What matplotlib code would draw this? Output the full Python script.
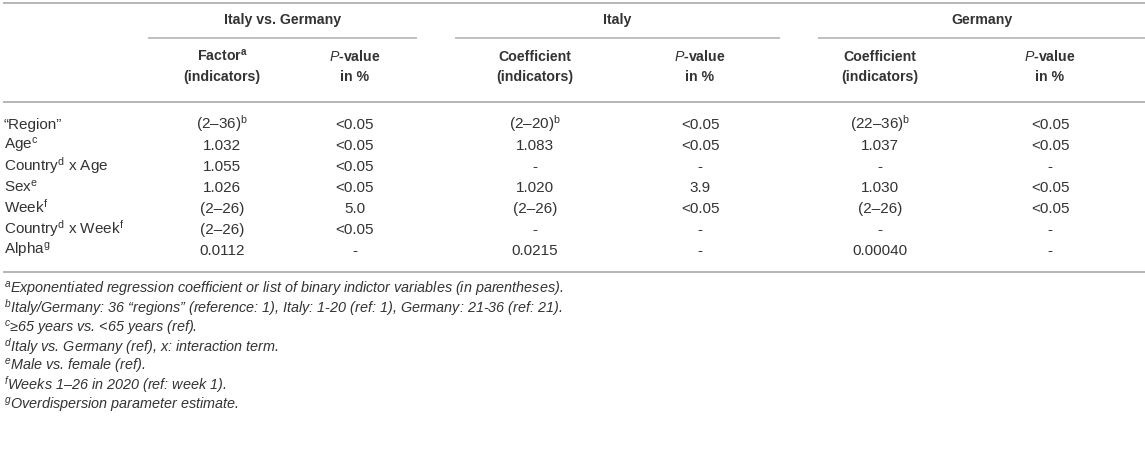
import matplotlib
matplotlib.use("Agg")
import matplotlib.pyplot as plt

plt.rcParams['font.family'] = ['Liberation Sans', 'DejaVu Sans']
plt.rcParams['mathtext.fontset'] = 'custom'
plt.rcParams['mathtext.rm'] = 'Liberation Sans'
plt.rcParams['mathtext.it'] = 'Liberation Sans:italic'
plt.rcParams['mathtext.bf'] = 'Liberation Sans:bold'

# ---- data ----
group_titles = ["Italy vs. Germany", "Italy", "Germany"]
col_line1 = ["Factor$^{\\mathregular{a}}$", "$\\mathbf{\\mathit{P}}$-value",
             "Coefficient", "$\\mathbf{\\mathit{P}}$-value",
             "Coefficient", "$\\mathbf{\\mathit{P}}$-value"]
col_line2 = ["(indicators)", "in %", "(indicators)", "in %", "(indicators)", "in %"]

row_labels = ["\u201cRegion\u201d", "Age$^{\\mathregular{c}}$",
              "Country$^{\\mathregular{d}}$ x Age", "Sex$^{\\mathregular{e}}$",
              "Week$^{\\mathregular{f}}$",
              "Country$^{\\mathregular{d}}$ x Week$^{\\mathregular{f}}$",
              "Alpha$^{\\mathregular{g}}$"]
itde_factor = ["(2\u201336)$^{\\mathregular{b}}$", "1.032", "1.055", "1.026", "(2\u201326)", "(2\u201326)", "0.0112"]
itde_p = ["<0.05", "<0.05", "<0.05", "<0.05", "5.0", "<0.05", "-"]
it_coef = ["(2\u201320)$^{\\mathregular{b}}$", "1.083", "-", "1.020", "(2\u201326)", "-", "0.0215"]
it_p = ["<0.05", "<0.05", "-", "3.9", "<0.05", "-", "-"]
de_coef = ["(22\u201336)$^{\\mathregular{b}}$", "1.037", "-", "1.030", "(2\u201326)", "-", "0.00040"]
de_p = ["<0.05", "<0.05", "-", "<0.05", "<0.05", "-", "-"]

footnote_marks = ["a", "b", "c", "d", "e", "f", "g"]
footnote_texts = [
    "Exponentiated regression coefficient or list of binary indictor variables (in parentheses).",
    "Italy/Germany: 36 \u201cregions\u201d (reference: 1), Italy: 1-20 (ref: 1), Germany: 21-36 (ref: 21).",
    "\u226565 years vs. <65 years (ref).",
    "Italy vs. Germany (ref), x: interaction term.",
    "Male vs. female (ref).",
    "Weeks 1\u201326 in 2020 (ref: week 1).",
    "Overdispersion parameter estimate.",
]

columns = [itde_factor, itde_p, it_coef, it_p, de_coef, de_p]

# ---- layout ----
W, H = 1145, 455
fig = plt.figure(figsize=(W / 100, H / 100), dpi=100)
ax = fig.add_axes([0, 0, 1, 1])
ax.set_xlim(0, W)
ax.set_ylim(H, 0)
ax.axis("off")

txt_color = "#333333"
rule_color = "#b5b5b5"
fs_bold = 10.2
fs = 11.0
fs_note = 10.4

col_x = [222, 355, 535, 700, 880, 1050]
group_spans = [(148, 417), (455, 780), (818, 1145)]

y_top = 3
y_group = 24
y_gline = 38
y_h1 = 61
y_h2 = 81
y_hrule = 102
y_row0 = 129
row_step = 21
y_brule = 272
y_note0 = 294
note_step = 19.2

ax.hlines([y_top, y_hrule, y_brule], 3, W, color=rule_color, lw=1.4)
for (a, b), t in zip(group_spans, group_titles):
    ax.hlines(y_gline, a, b, color=rule_color, lw=1.2)
    ax.text((a + b) / 2, y_group, t, ha="center", va="baseline", fontsize=fs_bold,
            fontweight="bold", color=txt_color)

for x, l1, l2 in zip(col_x, col_line1, col_line2):
    ax.text(x, y_h1, l1, ha="center", va="baseline", fontsize=fs_bold, fontweight="bold", color=txt_color)
    ax.text(x, y_h2, l2, ha="center", va="baseline", fontsize=fs_bold, fontweight="bold", color=txt_color)

for i, lab in enumerate(row_labels):
    y = y_row0 + i * row_step
    ax.text(4, y, lab, ha="left", va="baseline", fontsize=fs, color=txt_color)
    for x, col in zip(col_x, columns):
        ax.text(x, y, col[i], ha="center", va="baseline", fontsize=fs, color=txt_color)

for i, (m, t) in enumerate(zip(footnote_marks, footnote_texts)):
    y = y_note0 + i * note_step
    ax.text(4, y, "$^{\\mathregular{%s}}$" % m + t, ha="left", va="baseline",
            fontsize=fs_note, style="italic", color=txt_color)

fig.savefig("out.png", dpi=100)
